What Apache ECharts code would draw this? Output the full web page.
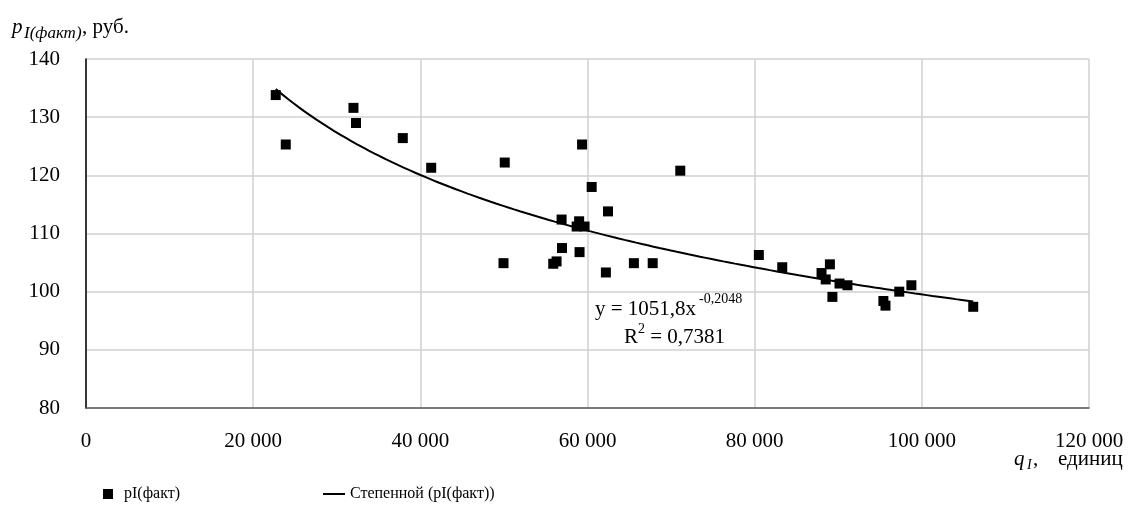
<!DOCTYPE html>
<html>
<head>
<meta charset="utf-8">
<script src="https://cdn.jsdelivr.net/npm/echarts@6/dist/echarts.min.js"></script>
<style>
  html, body { margin: 0; padding: 0; background: #fff; }
  #chart { width: 1136px; height: 515px; }
</style>
</head>
<body>
<div id="chart"></div>
<script>
// объём q (единиц) и цена p (руб.)
const qValues = [22700, 23900, 32000, 32300, 37900, 41300, 50100, 49950,
  59350, 71100, 60500, 62450, 56900, 59000, 58700, 59650, 56950, 59050,
  55900, 56300, 65550, 67800, 62200, 80500, 83300, 89000, 88000, 88500,
  90150, 91100, 89300, 95400, 95650, 97300, 98750, 106150];
const pValues = [133.8, 125.3, 131.6, 129.0, 126.4, 121.3, 122.2, 104.9,
  125.3, 120.8, 118.0, 113.8, 112.4, 112.1, 111.2, 111.2, 107.5, 106.8,
  104.8, 105.2, 104.9, 104.9, 103.3, 106.3, 104.2, 104.7, 103.2, 102.1,
  101.4, 101.1, 99.1, 98.4, 97.6, 100.0, 101.1, 97.4];

// степенной тренд из подписи на графике: y = 1051,8x^-0,2048
const trendA = 1051.8;
const trendB = -0.2048;

const xTicks = [0, 20000, 40000, 60000, 80000, 100000, 120000];
const yTicks = [80, 90, 100, 110, 120, 130, 140];

const scatterName = 'pI(факт)';
const trendName = 'Степенной (pI(факт))';

const font = 'Liberation Serif, Times New Roman, serif';

const points = qValues.map((q, i) => [q, pValues[i]]);
const qMin = Math.min(...qValues);
const qMax = Math.max(...qValues);
const trend = [];
for (let i = 0; i <= 120; i++) {
  const q = qMin + (qMax - qMin) * i / 120;
  trend.push([q, trendA * Math.pow(q, trendB)]);
}

function fmt(v) {
  return String(v).replace(/\B(?=(\d{3})+(?!\d))/g, ' ');
}

const chart = echarts.init(document.getElementById('chart'));
chart.setOption({
  animation: false,
  textStyle: { fontFamily: font, color: '#000' },
  grid: { left: 86, right: 47, top: 59, bottom: 107 },
  xAxis: {
    type: 'value',
    min: xTicks[0],
    max: xTicks[xTicks.length - 1],
    interval: xTicks[1] - xTicks[0],
    axisLine: { show: true, onZero: false, lineStyle: { color: '#595959', width: 1.5 } },
    axisTick: { show: false },
    axisLabel: { fontSize: 21, color: '#000', fontFamily: font, margin: 23, formatter: fmt },
    splitLine: { show: true, lineStyle: { color: '#d0d0d0', width: 1.5 } }
  },
  yAxis: {
    type: 'value',
    min: yTicks[0],
    max: yTicks[yTicks.length - 1],
    interval: yTicks[1] - yTicks[0],
    axisLine: { show: true, onZero: false, lineStyle: { color: '#000', width: 1.5 } },
    axisTick: { show: false },
    axisLabel: { fontSize: 21, color: '#000', fontFamily: font, margin: 26 },
    splitLine: { show: true, lineStyle: { color: '#d0d0d0', width: 1.5 } }
  },
  legend: [
    {
      data: [scatterName],
      left: 98, top: 481,
      icon: 'rect', itemWidth: 10, itemHeight: 10, itemGap: 0,
      textStyle: { fontSize: 16, fontFamily: font, color: '#000', padding: [0, 0, 0, 6] }
    },
    {
      data: [trendName],
      left: 318, top: 481,
      icon: 'rect', itemWidth: 22, itemHeight: 2,
      textStyle: { fontSize: 16, fontFamily: font, color: '#000' }
    }
  ],
  series: [
    {
      name: scatterName,
      type: 'scatter',
      data: points,
      symbol: 'rect',
      symbolSize: 10,
      itemStyle: { color: '#000', opacity: 1 },
      z: 3
    },
    {
      name: trendName,
      type: 'line',
      data: trend,
      showSymbol: false,
      symbol: 'none',
      smooth: false,
      lineStyle: { color: '#000', width: 2 },
      itemStyle: { color: '#000' },
      z: 2
    }
  ],
  graphic: [
    // подпись оси Y
    { type: 'text', left: 12, top: 17, style: { text: 'p', font: 'italic 21px ' + font, fill: '#000' } },
    { type: 'text', left: 24, top: 25, style: { text: 'I(факт)', font: 'italic 17px ' + font, fill: '#000' } },
    { type: 'text', left: 82, top: 17, style: { text: ', руб.', font: '21px ' + font, fill: '#000' } },
    // подпись оси X
    { type: 'text', left: 1014, top: 449, style: { text: 'q', font: 'italic 21px ' + font, fill: '#000' } },
    { type: 'text', left: 1027, top: 458, style: { text: 'I', font: 'italic 14px ' + font, fill: '#000' } },
    { type: 'text', left: 1033, top: 449, style: { text: ',', font: '21px ' + font, fill: '#000' } },
    { type: 'text', left: 1058, top: 449, style: { text: 'единиц', font: '21px ' + font, fill: '#000' } },
    // уравнение тренда
    { type: 'text', left: 595, top: 299, style: { text: 'y = 1051,8x', font: '21px ' + font, fill: '#000' } },
    { type: 'text', left: 699, top: 292, style: { text: '-0,2048', font: '14px ' + font, fill: '#000' } },
    { type: 'text', left: 624, top: 327, style: { text: 'R', font: '21px ' + font, fill: '#000' } },
    { type: 'text', left: 638, top: 322, style: { text: '2', font: '14px ' + font, fill: '#000' } },
    { type: 'text', left: 645, top: 327, style: { text: ' = 0,7381', font: '21px ' + font, fill: '#000' } }
  ]
});
</script>
</body>
</html>
